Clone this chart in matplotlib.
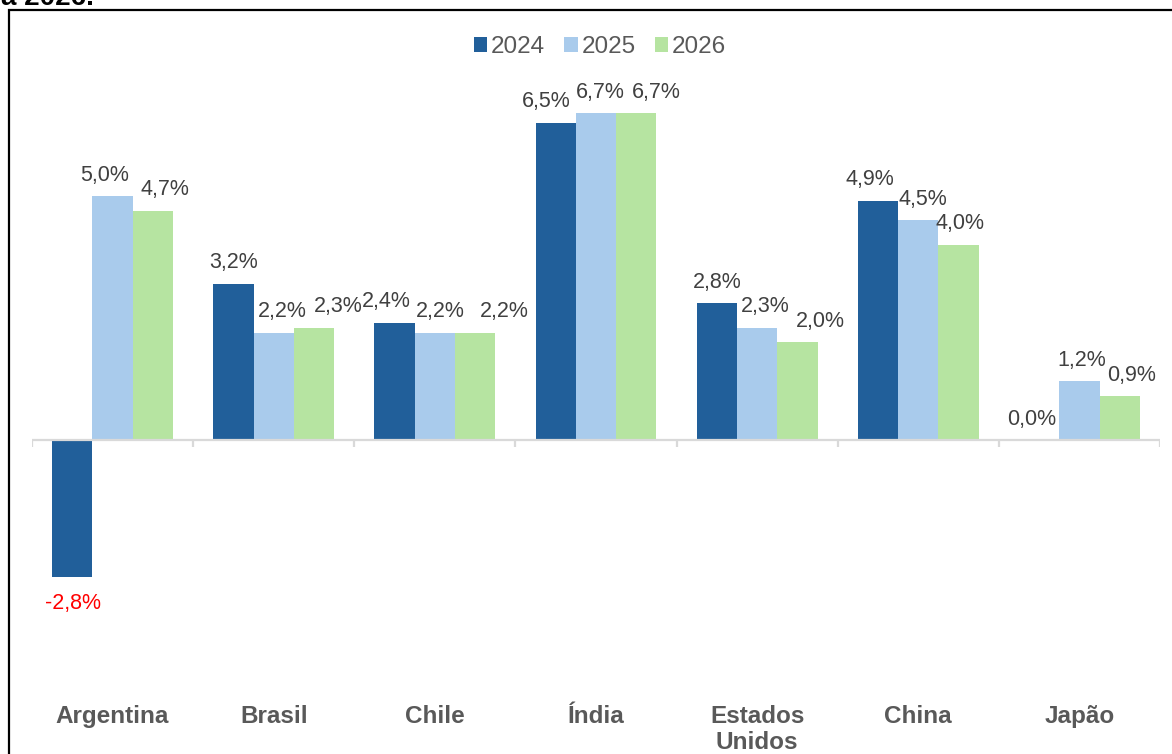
import matplotlib
import numpy as np

matplotlib.use("Agg")
import matplotlib.pyplot as plt
from matplotlib.patches import Patch, Rectangle

plt.rcParams["font.family"] = ["Liberation Sans", "DejaVu Sans"]

countries = ["Argentina", "Brasil", "Chile", "Índia", "Estados\nUnidos", "China", "Japão"]
years = ["2024", "2025", "2026"]
g2024 = [-2.8, 3.2, 2.4, 6.5, 2.8, 4.9, 0.0]
g2025 = [5.0, 2.2, 2.2, 6.7, 2.3, 4.5, 1.2]
g2026 = [4.7, 2.3, 2.2, 6.7, 2.0, 4.0, 0.9]
colors = ["#215F9A", "#A9CBEC", "#B6E4A1"]

# horizontal nudges (pixels) of the data labels, as the spreadsheet placed them
label_dx = [
    [1, 0, -8, -9, 0, -8, -7],
    [-8, 9, 5, 4, 8, 5, 2],
    [12, 24, 29, 20, 23, 1, 12],
]

W, H = 1172, 754
fig = plt.figure(figsize=(W / 100, H / 100), dpi=100)

# axes placed in pixel terms
left, right, top, bottom = 32, 1160, 60, 690
ax = fig.add_axes([left / W, (H - bottom) / H, (right - left) / W, (bottom - top) / H])
ppu = 48.8  # pixels per percentage point
ax.set_ylim(-(bottom - 440) / ppu, (440 - top) / ppu)
ax.set_xlim(-0.5, len(countries) - 0.5)

x = np.arange(len(countries))
width = 0.25
for i, (vals, col) in enumerate(zip([g2024, g2025, g2026], colors)):
    pos = x + (i - 1) * width
    ax.bar(pos, vals, width=width, color=col, edgecolor="none", zorder=2)
    for j, (px, v) in enumerate(zip(pos, vals)):
        txt = f"{v:.1f}".replace(".", ",") + "%"
        dx = label_dx[i][j] * 0.72
        if v < 0:
            ax.annotate(txt, (px, v), xytext=(dx, -12), textcoords="offset points",
                        ha="center", va="top", fontsize=15.5, color="#FF0000")
        else:
            ax.annotate(txt, (px, v), xytext=(dx, 7.5), textcoords="offset points",
                        ha="center", va="bottom", fontsize=15.5, color="#404040")

# category axis at zero with separator ticks
ax.axhline(0, color="#D9D9D9", linewidth=1.6, zorder=3)
ax.vlines(np.arange(-0.5, len(countries)), -0.15, 0, color="#D9D9D9", linewidth=1.6, zorder=3)

ax.set_yticks([])
ax.set_xticks(x)
ax.set_xticklabels(countries, fontsize=17.5, fontweight="bold", color="#595959", linespacing=1.2)
ax.tick_params(axis="x", length=0, pad=10.5)
for s in ax.spines.values():
    s.set_visible(False)

handles = [Patch(facecolor=c, edgecolor="none", label=y) for y, c in zip(years, colors)]
fig.legend(handles=handles, loc="center", bbox_to_anchor=(600 / W, 1 - 47 / H), ncol=3,
           frameon=False, fontsize=17.5, handlelength=0.55, handleheight=0.55,
           handletextpad=0.15, columnspacing=0.8, labelcolor="#595959")

# surrounding frame and clipped heading from the page
fig.patches.append(Rectangle((9 / W, -0.1), 1.2, 1 - 10 / H + 0.1, transform=fig.transFigure,
                             fill=False, edgecolor="black", linewidth=1.6))
fig.text(1 / W, 1 - 5 / H, "a 2026.", fontsize=20, fontweight="bold", va="baseline", ha="left")

fig.savefig("out.png", dpi=100)
